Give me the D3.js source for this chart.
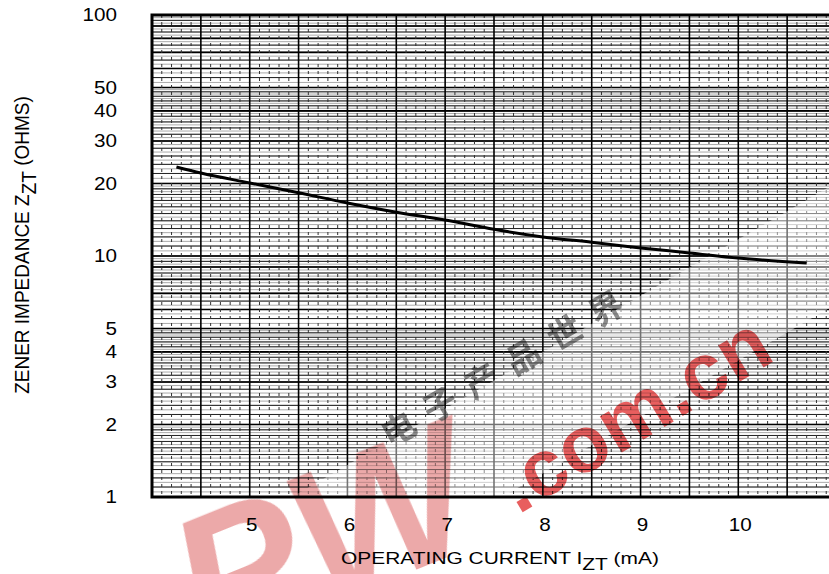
<!DOCTYPE html>
<html lang="en">
<head>
<meta charset="utf-8">
<title>Zener impedance vs operating current</title>
<script src="https://cdn.jsdelivr.net/npm/d3@7"></script>
<style>
  body { margin: 0; background: #fff; }
  .lbl { font-family: "Liberation Sans", Arial, sans-serif; font-size: 17.5px; fill: #000; }
  .title { font-family: "Liberation Sans", Arial, sans-serif; fill: #000; }
</style>
</head>
<body>
<script>
// data
var current = [4.25, 4.5, 5, 5.5, 6, 6.5, 7, 7.5, 8, 8.5, 9, 9.5, 10, 10.7];
var impedance = [23.4, 22.1, 20.1, 18.3, 16.6, 15.2, 14.1, 12.9, 12.0, 11.4, 10.8, 10.3, 9.8, 9.35];

var xTicks = [5, 6, 7, 8, 9, 10];
var yTicks = [1, 2, 3, 4, 5, 10, 20, 30, 40, 50, 100];

var w = 829, h = 574;
var mLeft = 152, mTop = 15, mBottom = 497;

var svg = d3.select("body").append("svg")
  .attr("width", w).attr("height", h);

var x = d3.scaleLinear().domain([4, 11]).range([mLeft, 836]);
var y = d3.scaleLog().domain([1, 100]).range([mBottom, mTop]);

// log paper grid lines
function steps(a, b, s) {
  var out = [];
  for (var v = a; v < b - 1e-9; v += s) out.push(+v.toFixed(4));
  return out;
}
var fineH = [], minorH = [], majorH = [];
[1, 10].forEach(function(d) {
  steps(1, 2, 0.05).concat(steps(2, 5, 0.1)).concat(steps(5, 10, 0.25)).forEach(function(v) { fineH.push(v * d); });
  steps(1, 2, 0.1).concat(steps(2, 5, 0.2)).concat(steps(5, 10, 0.5)).forEach(function(v) { minorH.push(v * d); });
  [1, 2, 3, 4, 5, 6, 7, 8, 9].forEach(function(v) { majorH.push(v * d); });
});
majorH.push(100);

var grid = svg.append("g");
grid.selectAll(".hf").data(fineH).enter().append("line")
  .attr("x1", mLeft).attr("x2", w)
  .attr("y1", function(d) { return y(d); }).attr("y2", function(d) { return y(d); })
  .attr("stroke", "#aaa").attr("stroke-width", 1);
grid.selectAll(".hm").data(minorH).enter().append("line")
  .attr("x1", mLeft).attr("x2", w)
  .attr("y1", function(d) { return y(d); }).attr("y2", function(d) { return y(d); })
  .attr("stroke", "#222").attr("stroke-width", 1);
grid.selectAll(".hM").data(majorH).enter().append("line")
  .attr("x1", mLeft).attr("x2", w)
  .attr("y1", function(d) { return y(d); }).attr("y2", function(d) { return y(d); })
  .attr("stroke", "#000").attr("stroke-width", 1.6);

var minorV = steps(4.1, 11, 0.1).filter(function(v) { return Math.abs(v * 2 - Math.round(v * 2)) > 1e-6; });
var majorV = steps(4.5, 11, 0.5);
grid.selectAll(".vm").data(minorV).enter().append("line")
  .attr("x1", function(d) { return x(d); }).attr("x2", function(d) { return x(d); })
  .attr("y1", mTop).attr("y2", mBottom)
  .attr("stroke", "#333").attr("stroke-width", 1)
  .attr("stroke-dasharray", "3,4");
grid.selectAll(".vM").data(majorV).enter().append("line")
  .attr("x1", function(d) { return x(d); }).attr("x2", function(d) { return x(d); })
  .attr("y1", mTop).attr("y2", mBottom)
  .attr("stroke", "#000").attr("stroke-width", 1.6);

// watermark haze over the paper
svg.append("rect")
  .attr("x", -330).attr("y", -50).attr("width", 740).attr("height", 105)
  .attr("transform", "translate(560,400) rotate(-30)")
  .attr("fill", "#fff").attr("opacity", 0.45);

// frame (left, top, bottom)
svg.append("path")
  .attr("d", "M" + w + "," + mTop + "H" + mLeft + "V" + mBottom + "H" + w)
  .attr("fill", "none").attr("stroke", "#000").attr("stroke-width", 3);

// curve
var line = d3.line()
  .x(function(d, i) { return x(current[i]); })
  .y(function(d, i) { return y(impedance[i]); })
  .curve(d3.curveMonotoneX);
svg.append("path").datum(current)
  .attr("d", line)
  .attr("fill", "none").attr("stroke", "#000").attr("stroke-width", 3);

// tick labels (source image is a little stretched sideways)
svg.selectAll(".xt").data(xTicks).enter().append("text")
  .attr("class", "lbl")
  .attr("transform", function(d) { return "translate(" + (x(d) + 2) + ",531) scale(1.18,1)"; })
  .attr("text-anchor", "middle")
  .text(function(d) { return d; });
svg.selectAll(".yt").data(yTicks).enter().append("text")
  .attr("class", "lbl")
  .attr("transform", function(d) { return "translate(117," + y(d) + ") scale(1.18,1)"; })
  .attr("dy", "0.36em")
  .attr("text-anchor", "end")
  .text(function(d) { return d; });

// axis titles
var xt = svg.append("text").attr("class", "title")
  .attr("font-size", 16.5)
  .attr("transform", "translate(500,564) scale(1.27,1)")
  .attr("text-anchor", "middle");
xt.append("tspan").text("OPERATING CURRENT I");
xt.append("tspan").attr("dy", 6).text("ZT");
xt.append("tspan").attr("dy", -6).text(" (mA)");

var yt = svg.append("text").attr("class", "title")
  .attr("font-size", 19)
  .attr("transform", "translate(29,245) scale(1.1,1) rotate(-90)")
  .attr("text-anchor", "middle");
yt.append("tspan").text("ZENER IMPEDANCE Z");
yt.append("tspan").attr("dy", 6).text("ZT");
yt.append("tspan").attr("dy", -6).text(" (OHMS)");

// watermark ink
var wmInk = svg.append("g").style("mix-blend-mode", "multiply");
wmInk.append("text")
  .attr("transform", "translate(205,655) rotate(-22)")
  .attr("font-family", "Liberation Sans, Arial, sans-serif")
  .attr("font-weight", "bold").attr("font-style", "italic")
  .attr("font-size", 190)
  .attr("fill", "#e07070").attr("opacity", 0.6)
  .text("PW");
wmInk.append("text")
  .attr("transform", "translate(518,515) rotate(-31)")
  .attr("font-family", "Liberation Sans, Arial, sans-serif")
  .attr("font-weight", "bold").attr("font-size", 80)
  .attr("fill", "#e02828").attr("opacity", 0.75)
  .text(".com.cn");
wmInk.append("text")
  .attr("transform", "translate(390,448) rotate(-30)")
  .attr("font-family", "Noto Sans CJK SC, sans-serif")
  .attr("font-weight", "bold")
  .attr("font-size", 34).attr("letter-spacing", 14)
  .attr("fill", "#666").attr("opacity", 0.75)
  .text("电子产品世界");
</script>
</body>
</html>
